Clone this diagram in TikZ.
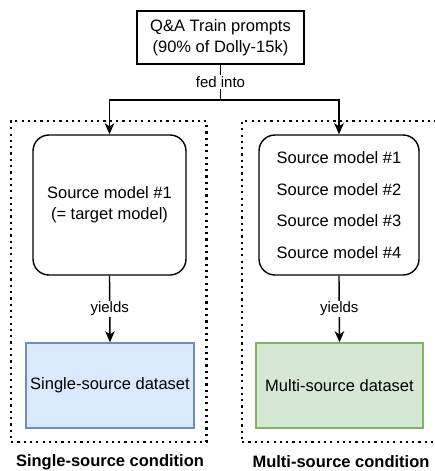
\documentclass[tikz,border=0pt]{standalone}
\usepackage{fontspec}
\setmainfont{Liberation Sans}
\usetikzlibrary{arrows.meta, positioning}
\definecolor{singleblue}{HTML}{DAE8FC}
\definecolor{singleedge}{HTML}{6C8EBF}
\definecolor{multigreen}{HTML}{D5E8D4}
\definecolor{multiedge}{HTML}{82B366}

\begin{document}
\begin{tikzpicture}[x=1pt, y=-1pt, line width=1.4pt,
  every node/.style={font=\fontsize{16.5}{21}\selectfont},
  plainbox/.style={draw, align=center, inner sep=0pt},
  modelbox/.style={draw, rounded corners=16pt, align=center, inner sep=0pt, minimum height=140pt},
  databox/.style={draw, inner sep=0pt, minimum width=168pt, minimum height=85pt},
  condframe/.style={draw, line width=2.2pt, dash pattern=on 2.2pt off 4.1pt, inner sep=0pt, minimum height=321pt},
  edgelabel/.style={fill=white, inner sep=1.5pt, font=\fontsize{15}{18}\selectfont},
  condlabel/.style={font=\fontsize{16.5}{20}\selectfont\bfseries},
  flow/.style={-{Stealth[length=11pt, width=9.5pt, inset=3pt]}}]
  \useasboundingbox (0,0) rectangle (435,471);
  % condition frames
  \node[condframe, minimum width=195.5pt] (singleframe) at (108.75,281.5) {};
  \node[condframe, minimum width=195pt] (multiframe) at (339.5,281.5) {};
  \node[condlabel] (singlecond) at (110,462) {Single-source condition};
  \node[condlabel] (multicond) at (341,462) {Multi-source condition};
  % prompts
  \node[plainbox, minimum width=167pt, minimum height=53pt] (prompts) at (220.5,37.5)
    {Q\&A Train prompts\\(90\% of Dolly-15k)};
  \coordinate (split) at (220.5,100);
  % source models
  \node[modelbox, minimum width=153pt] (srcone) at (109.5,205)
    {Source model \#1\\(= target model)};
  \node[modelbox, minimum width=160pt, font=\fontsize{16.5}{31.7}\selectfont] (srcmulti) at (339,205)
    {Source model \#1\\Source model \#2\\Source model \#3\\Source model \#4};
  % datasets
  \node[databox, fill=singleblue, draw=singleedge] (singledata) at (110,385.5) {Single-source dataset};
  \node[databox, fill=multigreen, draw=multiedge, minimum width=167pt] (multidata) at (339.5,385.5) {Multi-source dataset};
  % connectors
  \draw (prompts.south) -- node[edgelabel] {fed into} (split);
  \draw[flow] (split) -| (srcone.north);
  \draw[flow] (split) -| (srcmulti.north);
  \draw[flow] (srcone.south) -- node[edgelabel] {yields} (singledata.north);
  \draw[flow] (srcmulti.south) -- node[edgelabel] {yields} (multidata.north);
\end{tikzpicture}
\end{document}
